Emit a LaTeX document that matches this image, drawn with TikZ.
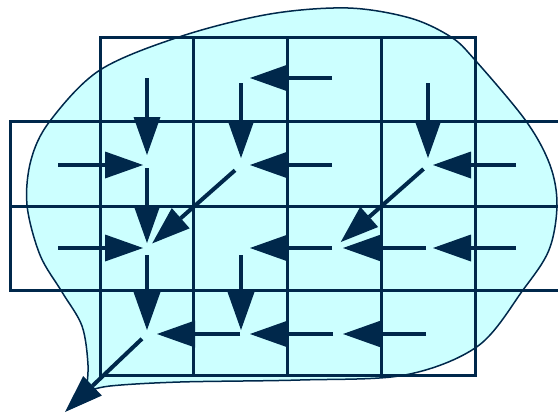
\documentclass[tikz,border=0pt]{standalone}
\usetikzlibrary{arrows.meta}
\definecolor{navy}{RGB}{0,40,75}
\definecolor{blobfill}{HTML}{CCFFFF}
\begin{document}
\begin{tikzpicture}[x=1pt,y=-1pt,
  gridline/.style={draw=navy,line width=3pt,line join=miter},
  flow/.style={draw=navy,line width=4pt,-{Triangle[length=38pt,width=27pt,line width=0pt]}},
  blob/.style={fill=blobfill,draw=navy,line width=1.5pt}]
\useasboundingbox (0,0) rectangle (558,415);
% callout blob
\path[blob] plot[smooth,tension=0.55] coordinates {
  (86,392) (88,365) (82,326) (62,292) (40,255) (27,205) (31,160) (50,121)
  (100,70) (182,36) (270,14) (348,8) (410,18) (451,37) (475,60) (526,121)
  (550,165) (557,205) (549,250) (523,290) (478,346) (405,375) (300,380)
  (180,382) (110,386) (86,392)};
% grid
\draw[gridline] (100,37) rectangle (475,375);
\draw[gridline] (193,37) -- (193,375);
\draw[gridline] (287,37) -- (287,375);
\draw[gridline] (381,37) -- (381,375);
\draw[gridline] (558,121) -- (10,121) -- (10,290) -- (558,290);
\draw[gridline] (10,206) -- (558,206);
% cell centres
\coordinate (c11) at (147,78);  \coordinate (c21) at (241,78);
\coordinate (c31) at (334,78);  \coordinate (c41) at (428,78);
\coordinate (c02) at (57,165);  \coordinate (c12) at (147,165);
\coordinate (c22) at (241,165); \coordinate (c32) at (334,165);
\coordinate (c42) at (428,165); \coordinate (c52) at (516,165);
\coordinate (c03) at (57,248);  \coordinate (c13) at (147,248);
\coordinate (c23) at (241,248); \coordinate (c33) at (334,248);
\coordinate (c43) at (428,248); \coordinate (c53) at (516,248);
\coordinate (c14) at (147,334); \coordinate (c24) at (241,334);
\coordinate (c34) at (334,334); \coordinate (c44) at (428,334);
\coordinate (tail) at (65,412);
% arrows
\draw[flow,shorten >=10pt] (c11) -- (c12);
\draw[flow,shorten <=5pt,shorten >=7pt] (c21) -- (c22);
\draw[flow,shorten <=2pt,shorten >=9pt] (c31) -- (c21);
\draw[flow,shorten <=5pt,shorten >=7pt] (c41) -- (c42);
\draw[flow,shorten <=1pt,shorten >=4pt] (c02) -- (c12);
\draw[flow,shorten <=3pt,shorten >=5pt] (c12) -- (c13);
\draw[flow,shorten <=8pt,shorten >=7pt] (c22) -- (c13);
\draw[flow,shorten <=2pt,shorten >=9pt] (c32) -- (c22);
\draw[flow,shorten >=5pt] (c52) -- (c42);
\draw[flow,shorten <=6pt,shorten >=9pt] (c42) -- (c33);
\draw[flow,shorten <=1pt,shorten >=4pt] (c03) -- (c13);
\draw[flow,shorten <=7pt,shorten >=4pt] (c13) -- (c14);
\draw[flow,shorten <=2pt,shorten >=9pt] (c33) -- (c23);
\draw[flow,shorten <=7pt,shorten >=4pt] (c23) -- (c24);
\draw[flow,shorten <=2pt,shorten >=9pt] (c43) -- (c33);
\draw[flow,shorten >=5pt] (c53) -- (c43);
\draw[flow,shorten <=7pt] (c14) -- (tail);
\draw[flow,shorten <=1pt,shorten >=10pt] (c24) -- (c14);
\draw[flow,shorten <=1pt,shorten >=9pt] (c34) -- (c24);
\draw[flow,shorten <=2pt,shorten >=9pt] (c44) -- (c34);
\end{tikzpicture}
\end{document}
